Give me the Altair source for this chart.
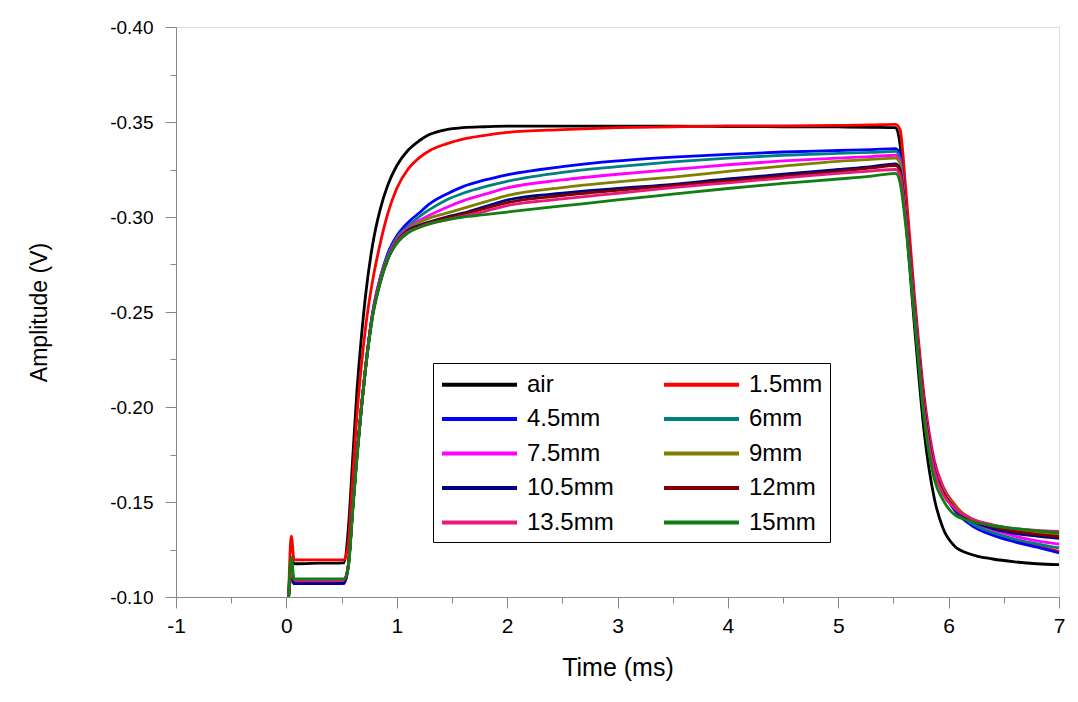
import altair as alt
import pandas as pd

# Time grid (ms) shared by all traces
T = [0.02, 0.045, 0.07, 0.10, 0.30, 0.52, 0.56, 0.60, 0.64, 0.68, 0.72, 0.78, 0.85, 0.92,
     1.00, 1.10, 1.20, 1.30, 1.45, 1.60, 1.80, 2.00, 2.50, 3.00, 3.50, 4.00, 4.50, 5.00,
     5.30, 5.52, 5.56, 5.61, 5.69, 5.78, 5.87, 5.95, 6.05, 6.20, 6.40, 6.60, 6.80, 7.00]

air = [-0.100, -0.120, -0.1175, -0.1175, -0.1178, -0.1180, -0.135, -0.172, -0.209, -0.237, -0.260, -0.285, -0.304, -0.317,
       -0.327, -0.335, -0.340, -0.3435, -0.346, -0.347, -0.3475, -0.3478, -0.3478, -0.3478, -0.3478, -0.3476, -0.3475, -0.3474,
       -0.3472, -0.3470, -0.338, -0.300, -0.243, -0.186, -0.152, -0.136, -0.127, -0.1225, -0.1200, -0.1185, -0.1175, -0.1170]
mm1_5 = [-0.100, -0.132, -0.1195, -0.1195, -0.1195, -0.1195, -0.128, -0.162, -0.196, -0.222, -0.243, -0.266, -0.286, -0.302,
         -0.315, -0.325, -0.331, -0.335, -0.3385, -0.341, -0.343, -0.3445, -0.346, -0.347, -0.3475, -0.348, -0.348, -0.3482,
         -0.3485, -0.3488, -0.346, -0.316, -0.259, -0.205, -0.172, -0.158, -0.149, -0.140, -0.1335, -0.130, -0.127, -0.1240]
mm4_5 = [-0.100, -0.112, -0.107, -0.107, -0.107, -0.1072, -0.116, -0.146, -0.175, -0.200, -0.222, -0.249, -0.268, -0.281,
         -0.290, -0.297, -0.302, -0.307, -0.312, -0.316, -0.3195, -0.3222, -0.3265, -0.3295, -0.3315, -0.3330, -0.3342, -0.3350,
         -0.3355, -0.3360, -0.333, -0.304, -0.253, -0.201, -0.170, -0.156, -0.146, -0.138, -0.1325, -0.129, -0.1262, -0.1232]
mm6 = [-0.100, -0.113, -0.108, -0.108, -0.108, -0.108, -0.116, -0.146, -0.175, -0.200, -0.222, -0.249, -0.268, -0.280,
       -0.289, -0.295, -0.300, -0.304, -0.309, -0.3125, -0.316, -0.3188, -0.3235, -0.3265, -0.3290, -0.3310, -0.3325, -0.3335,
       -0.3340, -0.3345, -0.331, -0.303, -0.252, -0.200, -0.169, -0.156, -0.147, -0.139, -0.134, -0.1305, -0.128, -0.1258]
mm7_5 = [-0.100, -0.112, -0.1075, -0.1075, -0.1075, -0.1075, -0.116, -0.146, -0.175, -0.200, -0.222, -0.249, -0.267, -0.279,
         -0.288, -0.294, -0.298, -0.301, -0.305, -0.3085, -0.312, -0.3153, -0.3195, -0.3225, -0.3250, -0.3275, -0.3295, -0.3310,
         -0.3318, -0.3325, -0.329, -0.302, -0.252, -0.201, -0.170, -0.157, -0.148, -0.1405, -0.1355, -0.132, -0.1295, -0.1278]
mm9 = [-0.100, -0.114, -0.109, -0.109, -0.109, -0.109, -0.116, -0.146, -0.175, -0.200, -0.222, -0.248, -0.266, -0.278,
       -0.2875, -0.2935, -0.297, -0.2995, -0.302, -0.3045, -0.308, -0.3113, -0.3155, -0.3185, -0.3210, -0.3240, -0.3268, -0.3293,
       -0.3303, -0.3310, -0.328, -0.301, -0.251, -0.199, -0.168, -0.156, -0.148, -0.1415, -0.1375, -0.135, -0.1338, -0.1328]
mm10_5 = [-0.100, -0.112, -0.107, -0.107, -0.107, -0.1072, -0.116, -0.146, -0.175, -0.200, -0.222, -0.248, -0.266, -0.278,
          -0.287, -0.293, -0.2955, -0.2975, -0.300, -0.302, -0.3055, -0.3089, -0.3125, -0.3150, -0.3172, -0.3200, -0.3225, -0.3250,
          -0.3265, -0.3280, -0.325, -0.300, -0.250, -0.198, -0.167, -0.155, -0.147, -0.1405, -0.136, -0.1335, -0.132, -0.1308]
mm12 = [-0.100, -0.114, -0.109, -0.109, -0.109, -0.109, -0.116, -0.146, -0.175, -0.200, -0.222, -0.248, -0.266, -0.278,
        -0.287, -0.2925, -0.295, -0.297, -0.2995, -0.3015, -0.3045, -0.3075, -0.3112, -0.3140, -0.3165, -0.3190, -0.3215, -0.3240,
        -0.3258, -0.3270, -0.324, -0.300, -0.250, -0.198, -0.167, -0.155, -0.147, -0.141, -0.137, -0.1345, -0.133, -0.1318]
mm13_5 = [-0.100, -0.114, -0.109, -0.109, -0.109, -0.109, -0.116, -0.146, -0.175, -0.200, -0.222, -0.248, -0.266, -0.278,
          -0.2865, -0.292, -0.2945, -0.2965, -0.2985, -0.3005, -0.303, -0.3060, -0.3095, -0.3125, -0.3155, -0.3180, -0.3205, -0.3230,
          -0.3242, -0.3250, -0.322, -0.299, -0.249, -0.196, -0.166, -0.154, -0.147, -0.1415, -0.138, -0.136, -0.135, -0.1345]
mm15 = [-0.100, -0.121, -0.1095, -0.1095, -0.1095, -0.1095, -0.115, -0.144, -0.173, -0.199, -0.221, -0.247, -0.265, -0.278,
        -0.286, -0.2915, -0.2945, -0.2965, -0.2985, -0.300, -0.3012, -0.3026, -0.3058, -0.3090, -0.3120, -0.3150, -0.3177, -0.3200,
        -0.3215, -0.3230, -0.318, -0.296, -0.247, -0.193, -0.162, -0.151, -0.1435, -0.140, -0.1375, -0.136, -0.1348, -0.1337]

names = ["air", "1.5mm", "4.5mm", "6mm", "7.5mm", "9mm", "10.5mm", "12mm", "13.5mm", "15mm"]
series = [air, mm1_5, mm4_5, mm6, mm7_5, mm9, mm10_5, mm12, mm13_5, mm15]
colors = ["#000000", "#FF0000", "#0000FF", "#008080", "#FF00FF", "#808000", "#000080", "#800000", "#E8197E", "#107E10"]

# legend fills column by column: list left column first, then right column
legend_order = ["air", "4.5mm", "7.5mm", "10.5mm", "13.5mm", "1.5mm", "6mm", "9mm", "12mm", "15mm"]
legend_colors = [colors[names.index(n)] for n in legend_order]

x_ticks = [-1, -0.5, 0, 0.5, 1, 1.5, 2, 2.5, 3, 3.5, 4, 4.5, 5, 5.5, 6, 6.5, 7]
y_ticks = [-0.40, -0.375, -0.35, -0.325, -0.30, -0.275, -0.25, -0.225, -0.20, -0.175, -0.15, -0.125, -0.10]

rows = []
for i, (n, vals) in enumerate(zip(names, series)):
    for t, v in zip(T, vals):
        rows.append({"series": n, "order": i, "t": t, "v": v})
df = pd.DataFrame(rows)

x_major = "abs(datum.value - round(datum.value)) < 0.001"
y_major = "abs(datum.value*20 - round(datum.value*20)) < 0.001"

chart = alt.Chart(df).mark_line(strokeWidth=2.8, interpolate="monotone").encode(
    x=alt.X("t:Q",
            scale=alt.Scale(domain=[-1, 7], nice=False, zero=False),
            axis=alt.Axis(values=x_ticks, title="Time (ms)",
                          labelExpr=f"{x_major} ? (datum.value < 0 ? '-' + format(abs(datum.value), 'd') : format(datum.value, 'd')) : ''",
                          tickSize={"condition": {"test": x_major, "value": 11}, "value": 6},
                          labelFont="Liberation Sans Narrow, Liberation Sans", labelFontSize=21,
                          labelPadding=7, labelFlush=False, labelOverlap=False, labelBound=False,
                          titleFont="Liberation Sans", titleFontSize=25, titleFontWeight="normal",
                          titlePadding=19, grid=False)),
    y=alt.Y("v:Q",
            scale=alt.Scale(domain=[-0.40, -0.10], reverse=True, nice=False, zero=False),
            axis=alt.Axis(values=y_ticks, title="Amplitude (V)",
                          labelExpr=f"{y_major} ? ('-' + format(abs(datum.value), '.2f')) : ''",
                          tickSize={"condition": {"test": y_major, "value": 11}, "value": 6},
                          labelFont="Liberation Sans", labelFontSize=19,
                          labelPadding=12, labelOverlap=False, labelBound=False, labelFlush=False,
                          titleFont="Liberation Sans", titleFontSize=23, titleFontWeight="normal",
                          titlePadding=58, grid=False)),
    color=alt.Color("series:N",
                    scale=alt.Scale(domain=legend_order, range=legend_colors),
                    sort=legend_order,
                    legend=alt.Legend(title=None, orient="none", legendX=257, legendY=336,
                                      columns=2, gridAlign="all", columnPadding=42, rowPadding=7.5,
                                      symbolType="M-1,0H5", symbolSize=625, symbolStrokeWidth=3.8,
                                      labelFont="Liberation Sans", labelFontSize=24, labelOffset=58,
                                      labelLimit=300, padding=7, strokeColor="#000000",
                                      fillColor="#FFFFFF")),
    detail="series:N",
    order=alt.Order("order:Q"),
).properties(
    width=883, height=570,
    autosize=alt.AutoSizeParams(type="none"),
    padding={"left": 168, "top": 19, "right": 10, "bottom": 90},
).configure_axis(
    domainColor="#000000", domainWidth=2.5, tickColor="#000000", tickWidth=2,
    labelColor="#000000", titleColor="#000000",
).configure_legend(
    strokeWidth=1.5, labelColor="#000000",
).configure_view(stroke=None).configure(background="#FFFFFF")

chart.save("out.html", embed_options={"renderer": "svg", "actions": False})
